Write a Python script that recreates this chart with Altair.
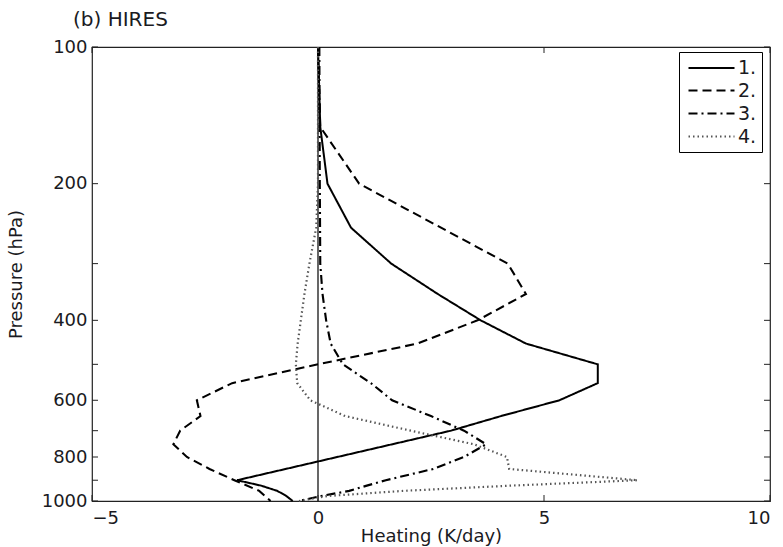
import altair as alt
import pandas as pd

# ---- data ----
series_names = ["1.", "2.", "3.", "4."]

p1 = [100, 150, 200, 250, 300, 350, 400, 450, 500, 550, 600, 650, 700, 900, 925, 950, 975, 1000]
v1 = [0.0, 0.05, 0.21, 0.73, 1.62, 2.65, 3.6, 4.6, 6.19, 6.19, 5.34, 4.05, 2.94, -1.79, -1.26, -0.9, -0.7, -0.56]

p2 = [100, 150, 200, 300, 350, 400, 450, 500, 550, 600, 650, 700, 750, 800, 850, 900, 950, 1000]
v2 = [0.0, 0.05, 0.91, 4.2, 4.6, 3.53, 2.2, 0.0, -1.9, -2.68, -2.6, -3.05, -3.2, -2.9, -2.4, -1.85, -1.3, -1.05]

p3 = [100, 200, 300, 350, 400, 450, 500, 550, 600, 650, 700, 750, 800, 850, 900, 925, 950, 975, 1000]
v3 = [0.03, 0.04, 0.05, 0.1, 0.18, 0.28, 0.55, 1.17, 1.64, 2.5, 3.23, 3.72, 3.23, 2.55, 1.5, 1.08, 0.69, 0.07, -0.42]

p4 = [100, 200, 250, 300, 350, 400, 450, 500, 550, 600, 650, 700, 750, 800, 850, 900, 925, 950, 975, 1000]
v4 = [0.0, 0.0, -0.04, -0.19, -0.3, -0.38, -0.45, -0.49, -0.46, -0.17, 0.6, 2.05, 3.45, 4.18, 4.23, 7.07, 4.27, 1.88, 0.22, -0.42]

x_ticks = [-5, 0, 5, 10]
y_ticks = [100, 200, 300, 400, 500, 600, 700, 800, 900, 1000]
y_labels = [100, 200, 400, 600, 800, 1000]
zero_line = [0]
panel_title = ["(b) HIRES"]

rows = []
for name, ps, vs in zip(series_names, [p1, p2, p3, p4], [v1, v2, v3, v4]):
    for p, v in zip(ps, vs):
        rows.append({"series": name, "p": p, "v": v})
df = pd.DataFrame(rows)

W, H = 678, 454
FONT = "DejaVu Sans"
INK = "#1a1a22"
TICK = 6

xscale = alt.Scale(domain=[-5, 10], nice=False, zero=False)
yscale = alt.Scale(type="log", domain=[100, 1000], reverse=True, nice=False)

xaxis = alt.Axis(values=x_ticks, title="Heating (K/day)", titleY=40,
                 titleBaseline="alphabetic", labelPadding=8)
yaxis = alt.Axis(values=y_labels, title="Pressure (hPa)", titleX=-71, format="d",
                 titleBaseline="alphabetic", labelPadding=5)

X = alt.X("v:Q", scale=xscale, axis=xaxis)
Y = alt.Y("p:Q", scale=yscale, axis=yaxis)

leg = alt.Legend(title=None, orient="none", legendX=587, legendY=5,
                 symbolType="M-2.3,0H2.3", symbolSize=400, symbolStrokeColor="black",
                 symbolFillColor="transparent", symbolOffset=16,
                 labelFont=FONT, labelFontSize=19, labelColor=INK,
                 strokeColor="black", fillColor="white", padding=5,
                 rowPadding=1, columnPadding=0, labelOffset=15)

lines = alt.Chart(df).mark_line(strokeCap="butt").encode(
    x=X,
    y=Y,
    order=alt.Order("p:Q"),
    strokeDash=alt.StrokeDash("series:N", scale=alt.Scale(
        domain=series_names, range=[[1, 0], [9, 5], [9, 4, 2, 4], [1.5, 3]]), legend=leg),
    color=alt.Color("series:N", scale=alt.Scale(
        domain=series_names, range=["#000000", "#000000", "#000000", "#555555"]), legend=leg),
    strokeWidth=alt.StrokeWidth("series:N", scale=alt.Scale(
        domain=series_names, range=[2, 2.2, 2.2, 1.6]), legend=leg),
)

zero = alt.Chart(pd.DataFrame({"v": zero_line})).mark_rule(
    color="black", strokeWidth=1.2).encode(x=X)

xt = pd.DataFrame({"v": x_ticks})
yt = pd.DataFrame({"p": y_ticks})
bottom_ticks = alt.Chart(xt).mark_rule(color="#222", strokeWidth=1).encode(
    x=X, y=alt.value(H), y2=alt.value(H - TICK))
top_ticks = alt.Chart(xt).mark_rule(color="#222", strokeWidth=1).encode(
    x=X, y=alt.value(0), y2=alt.value(TICK))
left_ticks = alt.Chart(yt).mark_rule(color="#222", strokeWidth=1).encode(
    y=Y, x=alt.value(0), x2=alt.value(TICK))
right_ticks = alt.Chart(yt).mark_rule(color="#222", strokeWidth=1).encode(
    y=Y, x=alt.value(W), x2=alt.value(W - TICK))

title_text = alt.Chart(pd.DataFrame({"t": panel_title})).mark_text(
    align="left", baseline="alphabetic", font=FONT, fontSize=20, color=INK
).encode(text="t:N", x=alt.value(-19), y=alt.value(-21))

chart = alt.layer(
    zero, bottom_ticks, top_ticks, left_ticks, right_ticks, lines, title_text
).properties(
    width=W, height=H,
    autosize=alt.AutoSizeParams(type="none"),
    padding={"left": 92, "top": 47, "right": 13, "bottom": 46},
).configure_view(
    stroke="#222", strokeWidth=1.2
).configure_axis(
    grid=False, domain=False, ticks=False,
    labelFont=FONT, labelFontSize=18, labelColor=INK,
    titleFont=FONT, titleFontSize=18, titleFontWeight="normal", titleColor=INK,
)

chart.save("out.html", embed_options={"renderer": "svg", "actions": False})
